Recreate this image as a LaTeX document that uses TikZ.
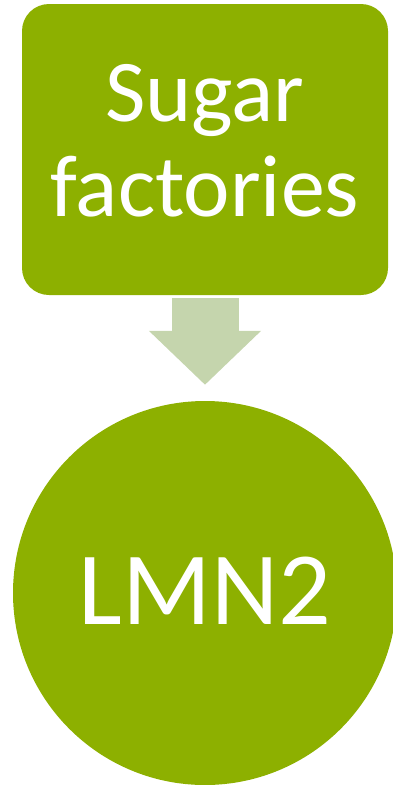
\documentclass[tikz,border=0pt]{standalone}
\usepackage{fontspec}
\setmainfont{Carlito}
\usetikzlibrary{arrows.meta}
\definecolor{leaf}{RGB}{141,176,0}
\definecolor{paleleaf}{RGB}{197,213,173}

\begin{document}
\begin{tikzpicture}[x=1pt, y=-1pt,
    box/.style={rectangle, rounded corners=27pt, fill=leaf, text=white,
        minimum width=366pt, minimum height=291pt, inner sep=0pt,
        font=\fontsize{88}{95}\selectfont},
    disc/.style={circle, fill=leaf, text=white, minimum size=384pt, inner sep=0pt,
        font=\fontsize{104}{110}\selectfont},
    flow/.style={draw=paleleaf, line width=67pt, line cap=butt,
        -{Triangle[width=109pt, length=54pt, fill=paleleaf]}}]
        \useasboundingbox (0,0) rectangle (392,785);
        % Define shapes
        \node[box] (Sugar) at (205,149.5) {\raisebox{-4pt}{\begin{tabular}{@{}c@{}}Sugar\\factories\end{tabular}}};
        \node[disc] (Lmn) at (205,593) {\raisebox{4.5pt}{LMN2}};
        % Block arrow between them
        \draw[flow, shorten <=3pt, shorten >=16pt] (Sugar) -- (Lmn);
    \end{tikzpicture}
\end{document}
